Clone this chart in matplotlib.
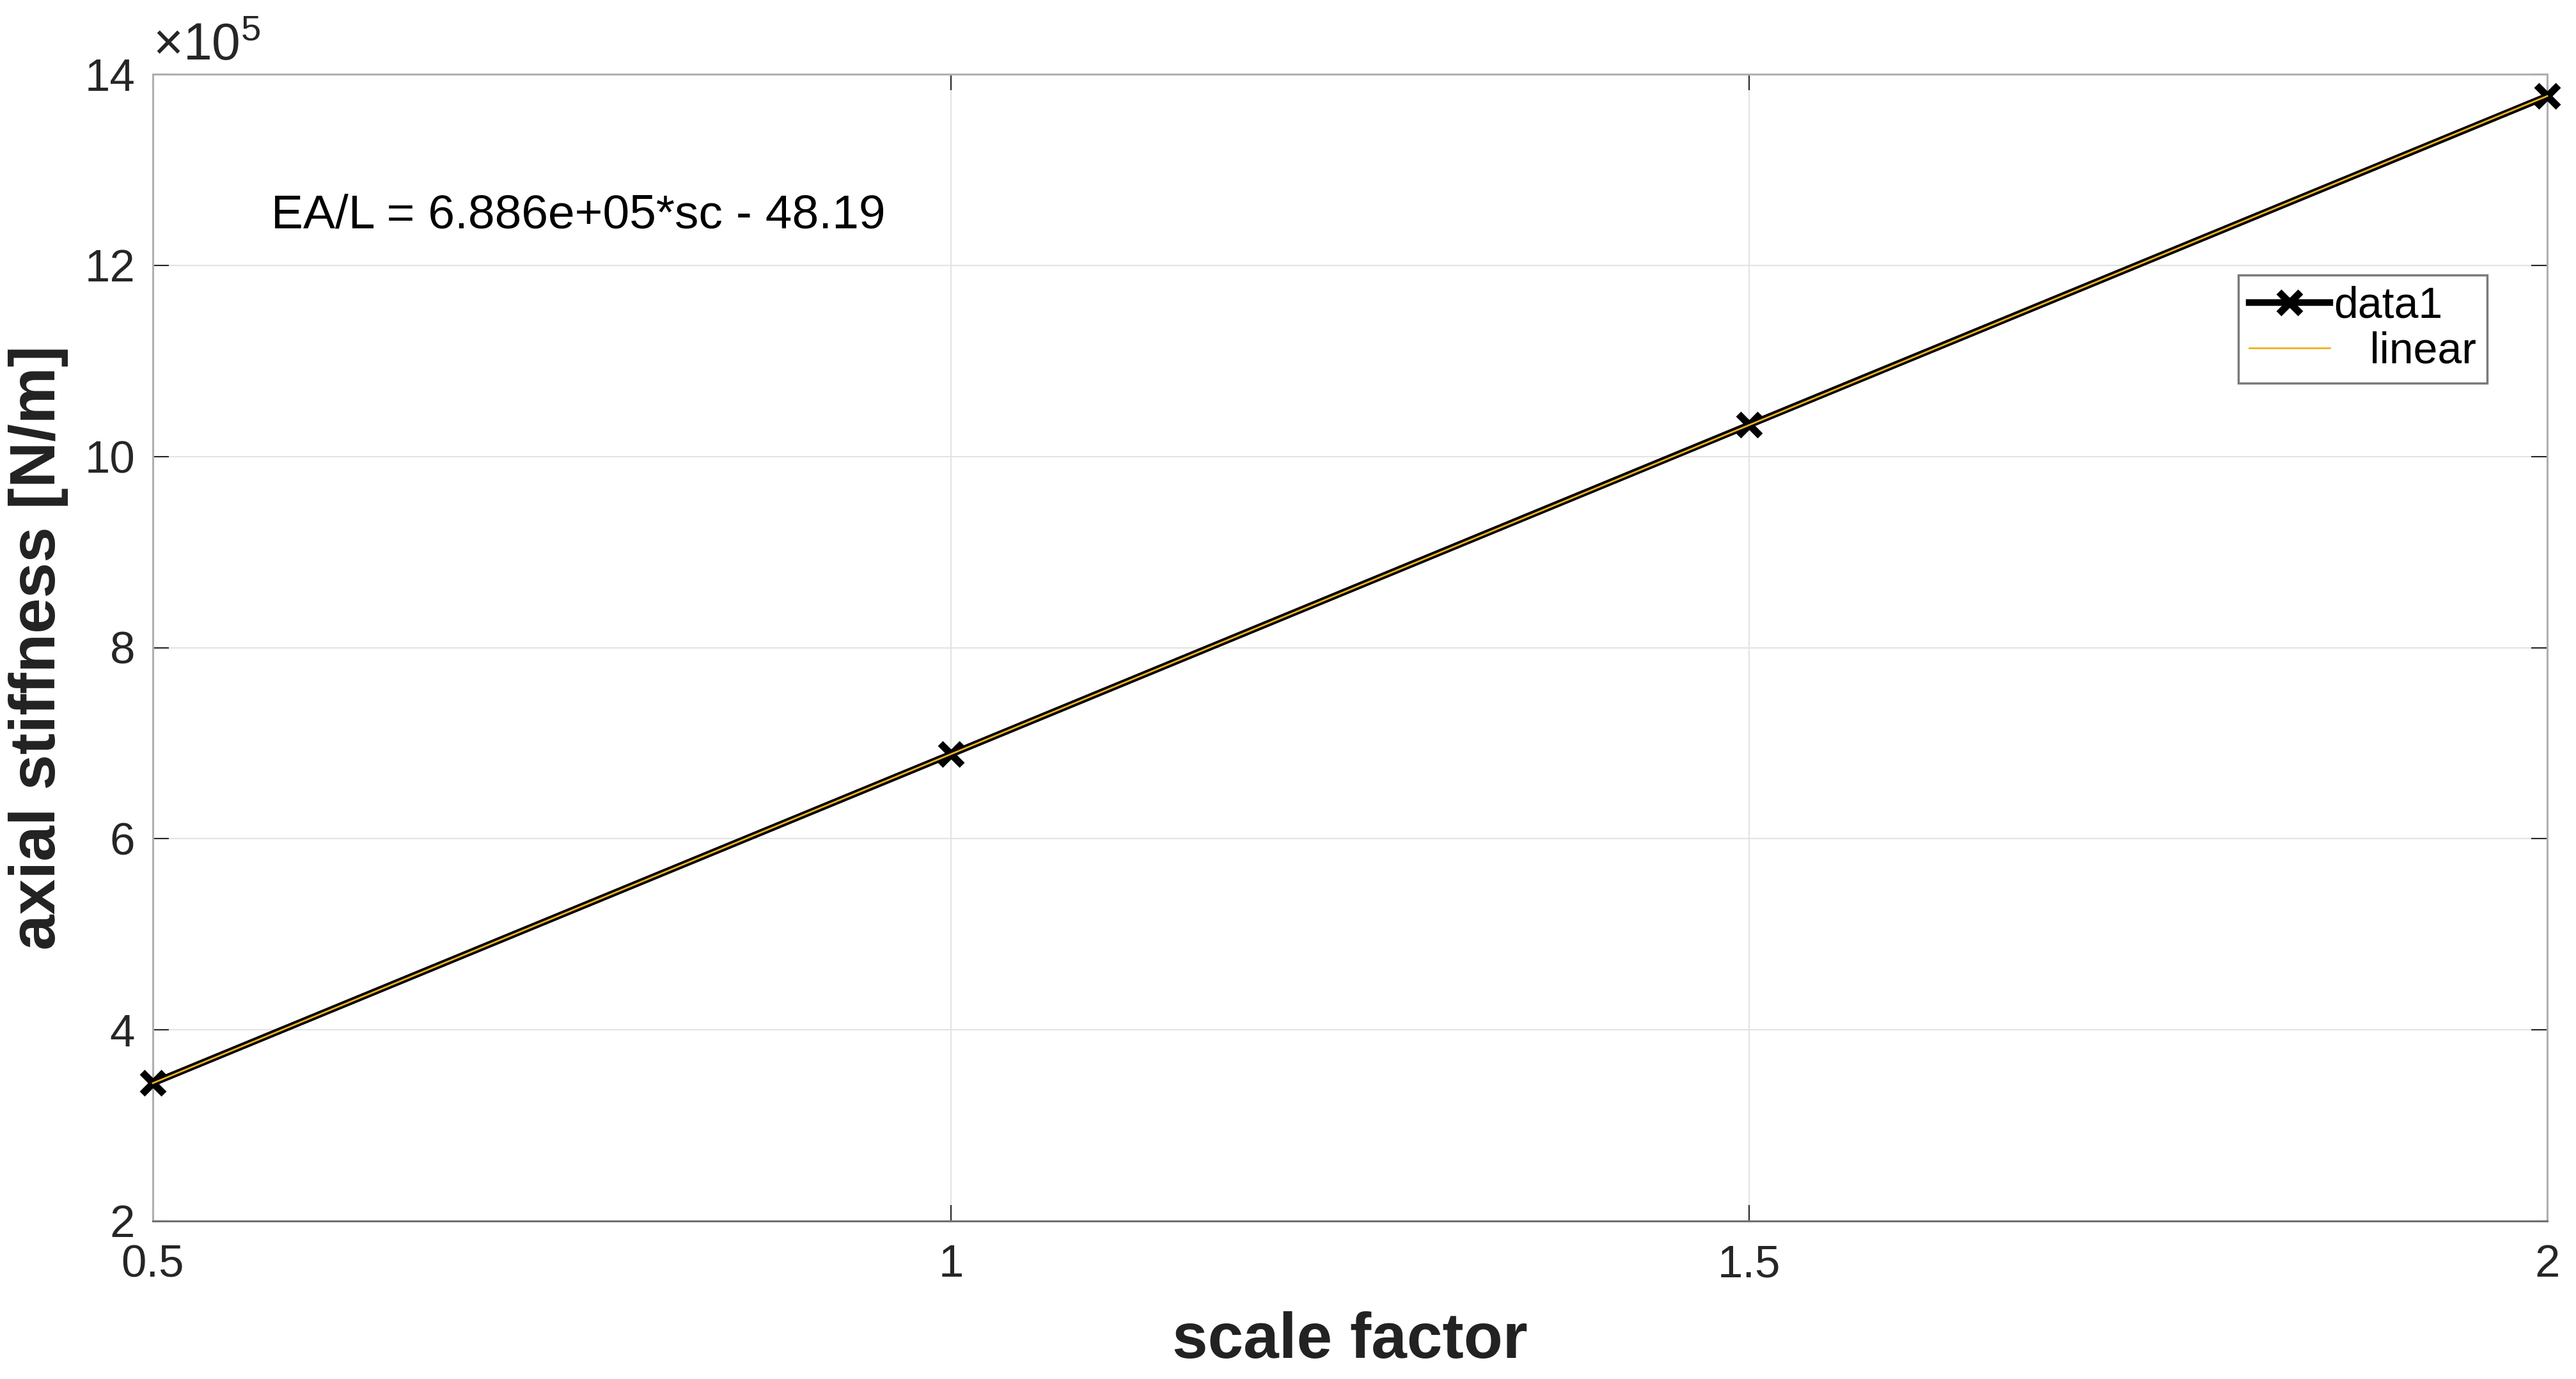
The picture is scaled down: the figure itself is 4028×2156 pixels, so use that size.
import matplotlib
matplotlib.use("Agg")
import matplotlib.pyplot as plt
from matplotlib.ticker import FuncFormatter

# данные: масштабный коэффициент и осевая жёсткость
scale = [0.5, 1.0, 1.5, 2.0]
stiffness = [3.443e5, 6.885e5, 10.33e5, 13.77e5]

# линейная аппроксимация (концы отрезка)
fit_x = [0.5, 2.0]
fit_y = [3.4425e5, 13.7715e5]

fit_text = "EA/L = 6.886e+05*sc - 48.19"
x_ticks = [0.5, 1, 1.5, 2]
y_ticks = [2e5, 4e5, 6e5, 8e5, 10e5, 12e5, 14e5]

plt.rcParams["font.family"] = ["Liberation Sans", "DejaVu Sans"]
plt.rcParams["mathtext.fontset"] = "custom"
plt.rcParams["mathtext.rm"] = "Liberation Sans"

fig = plt.figure(figsize=(40.28, 21.56), dpi=100)
ax = fig.add_axes([239 / 4028, 1 - 1909 / 2156, 3744 / 4028, 1793 / 2156])

ax.plot(scale, stiffness, color="black", lw=7.5, marker="x", ms=24, mew=8,
        label="data1", zorder=3, clip_on=False)
ax.plot(fit_x, fit_y, color="#EDB120", lw=2, label="   linear", zorder=4,
        clip_on=False)

ax.set_xlim(0.5, 2)
ax.set_ylim(2e5, 14e5)
ax.set_xticks(x_ticks)
ax.set_yticks(y_ticks)
ax.xaxis.set_major_formatter(FuncFormatter(lambda v, p: "%g" % v))
ax.yaxis.set_major_formatter(FuncFormatter(lambda v, p: "%g" % (v / 1e5)))

ax.grid(True, color="#e3e3e3", lw=1.5)
ax.set_axisbelow(True)
ax.tick_params(which="both", direction="in", top=True, right=True,
               length=18, width=1.5, color="#262626",
               labelsize=51, labelcolor="#262626")
ax.tick_params(axis="x", pad=26)
ax.tick_params(axis="y", pad=20)

for side in ["left", "top", "right"]:
    ax.spines[side].set_color("#b0b0b0")
    ax.spines[side].set_linewidth(2.2)
ax.spines["bottom"].set_color("#707070")
ax.spines["bottom"].set_linewidth(2.2)

ax.set_xlabel("scale factor", fontsize=72, fontweight="bold",
              color="#222222", labelpad=28)
ax.set_ylabel("axial stiffness [N/m]", fontsize=72, fontweight="bold",
              color="#222222", labelpad=18)

# множитель оси y
ax.text(0.0, 1.003, r"$\times\mathregular{10^5}$", transform=ax.transAxes,
        fontsize=58, color="#262626", ha="left", va="bottom")

# уравнение аппроксимации
ax.text(0.574, 12.52e5, fit_text, fontsize=54, color="black",
        ha="left", va="center")

leg = ax.legend(loc="upper right", bbox_to_anchor=(0.975, 0.825),
                fontsize=49, numpoints=1, handlelength=1.85,
                handletextpad=0.1, labelspacing=0.1, borderpad=0.25,
                borderaxespad=0, fancybox=False, framealpha=1)
leg.get_frame().set_edgecolor("#7a7a7a")
leg.get_frame().set_linewidth(2.5)

fig.savefig("out.png", dpi=100)
plt.close(fig)
